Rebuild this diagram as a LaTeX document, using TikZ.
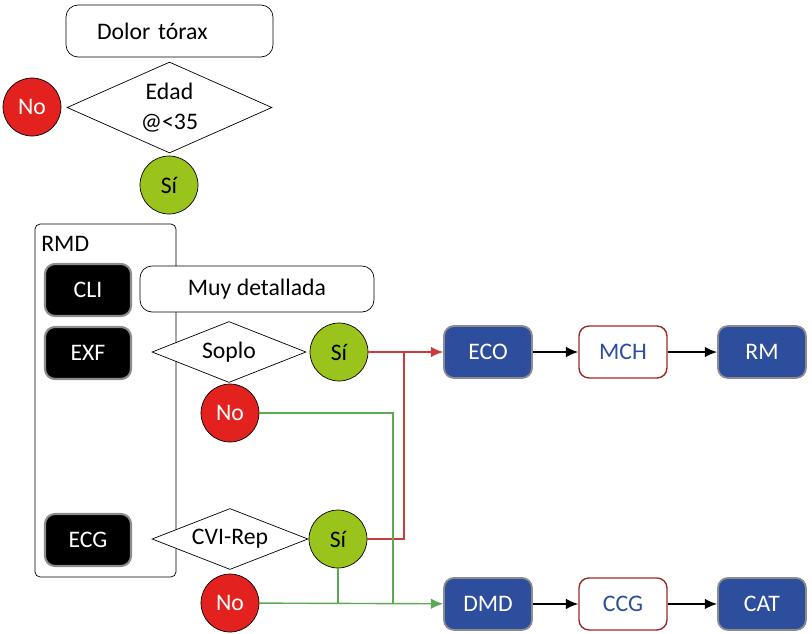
\documentclass[tikz,border=0pt]{standalone}
\usepackage{fontspec}
\setmainfont{Carlito}
\usetikzlibrary{shapes.geometric,arrows.meta,positioning}
\definecolor{nored}{HTML}{E3221F}
\definecolor{sigreen}{HTML}{9AC31C}
\definecolor{boxblue}{HTML}{2D4E9C}
\definecolor{boxgray}{HTML}{8C8C8C}
\definecolor{linered}{HTML}{CC3B3B}
\definecolor{linegreen}{HTML}{5BAA52}
\definecolor{darkred}{HTML}{9A2A2A}
\tikzset{
start/.style = {draw, fill=white, rectangle, rounded corners=0.24cm, minimum height=1.04cm, minimum width=4.14cm},
cond/.style  = {draw, fill=white, diamond, inner xsep=0pt, inner ysep=-3pt, align=center},
yes/.style   = {draw, fill=sigreen, circle, minimum size=1.16cm, inner sep=0pt},
no/.style    = {draw, fill=nored, circle, minimum size=1.16cm, inner sep=0pt, text=white},
test/.style  = {draw=boxgray, line width=1.2pt, fill=black, text=white, rectangle, rounded corners=0.2cm, minimum width=1.72cm, minimum height=1.04cm},
proc/.style  = {draw=boxgray, line width=1pt, fill=boxblue, text=white, rectangle, rounded corners=0.2cm, minimum width=1.76cm, minimum height=1.04cm},
study/.style = {draw=darkred, line width=0.8pt, fill=white, text=boxblue, rectangle, rounded corners=0.2cm, minimum width=1.76cm, minimum height=1.04cm},
frame/.style = {draw, rectangle, rounded corners=0.1cm, minimum width=2.82cm, minimum height=7.06cm},
redline/.style   = {draw=linered, line width=0.8pt},
greenline/.style = {draw=linegreen, line width=0.8pt}
}
\begin{document}
\begin{tikzpicture}[x=0.02cm, y=-0.02cm, >={Latex[length=7pt,width=6pt]}, node distance=2.7cm, font=\fontsize{13.5}{15}\selectfont]
  \useasboundingbox (0,0) rectangle (812,633);

  % inicio
  \node [start, text width=2.9cm, inner xsep=0.62cm, align=left] (dolor) at (169.5,31) {Dolor tórax};
  \node [cond, shape aspect=2.25, minimum width=4.1cm, minimum height=1.82cm] (edad) at (169.5,107.5) {Edad\\[2pt]@<35};
  \node [no]                                                    (no0)   at (32,107)  {No};
  \node [yes]                                                   (si0)   at (169,185) {Sí};

  % RMD
  \node [frame]                               (rmd)    at (105.5,400.5) {};
  \node [anchor=west, inner sep=0pt]          (rmdlbl) at (41,244)      {RMD};
  \node [test]                                (cli)    at (88,290)      {CLI};
  \node [test]                                (exf)    at (88,353)      {EXF};
  \node [test]                                (ecg)    at (88,540)      {ECG};
  \node [start, minimum width=4.68cm, minimum height=0.92cm] (detalle) at (257,289) {Muy detallada};

  % preguntas
  \node [cond, shape aspect=2.52, minimum width=3.08cm, minimum height=1.22cm] (soplo) at (229,352) {Soplo};
  \node [yes]                                               (si1)   at (339,352) {Sí};
  \node [no]                                                (no1)   at (230,413) {No};
  \node [cond, shape aspect=2.56, minimum width=3.12cm, minimum height=1.22cm] (cvi) at (230,539) {CVI-Rep};
  \node [yes]                                               (si2)   at (338,539) {Sí};
  \node [no]                                                (no2)   at (230,603) {No};

  % pruebas
  \node [proc]                                       (eco) at (488,352) {ECO};
  \node [study, right of=eco]                        (mch) {MCH};
  \node [proc, right of=mch, node distance=2.78cm]   (rm)  {RM};
  \node [proc, below of=eco, node distance=5.04cm]   (dmd) {DMD};
  \node [study, right of=dmd]                        (ccg) {CCG};
  \node [proc, right of=ccg, node distance=2.78cm]   (cat) {CAT};

  \coordinate (jred)   at (404,352);
  \coordinate (jgreen) at (393,603);

  \draw [redline, ->] (si1) -- (eco);
  \draw [redline] (si2) -| (jred);
  \draw [greenline] (no1) -| (jgreen);
  \draw [greenline] (si2.south) -- (si2.south |- no2.east);
  \draw [greenline, ->] (no2) -- (dmd);
  \draw [->, line width=0.8pt] (eco) -- (mch);
  \draw [->, line width=0.8pt] (mch) -- (rm);
  \draw [->, line width=0.8pt] (dmd) -- (ccg);
  \draw [->, line width=0.8pt] (ccg) -- (cat);
\end{tikzpicture}
\end{document}
